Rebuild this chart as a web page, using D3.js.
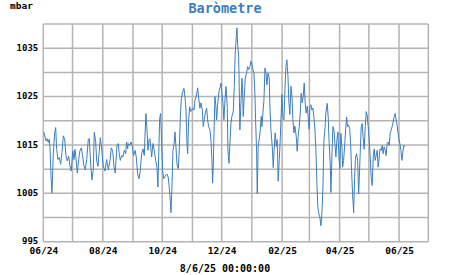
<!DOCTYPE html>
<html>
<head>
<meta charset="utf-8">
<script src="https://cdn.jsdelivr.net/npm/d3@7"></script>
<style>
  body { margin: 0; background: #fff; }
  text { font-family: "DejaVu Sans Mono", monospace; font-weight: bold; }
</style>
</head>
<body>
<div id="chart"></div>
<script>
// readings: day offset from 1 Jun 2024, pressure in mbar
const days = [
  0.7, 2.8, 4.1, 5.1, 6.2, 6.9, 7.9, 8.9, 10.3, 11.7, 12.7, 13.7, 15.1, 16.4, 17.8, 19.2,
  20.5, 21.9, 23.3, 24.6, 26.0, 27.4, 28.7, 30.2, 31.5, 32.5, 33.5, 34.9, 36.3, 37.6, 39.0,
  40.4, 41.7, 43.1, 44.5, 46.2, 47.2, 48.6, 49.9, 51.3, 52.3, 53.7, 54.8, 56.1, 57.4, 58.5,
  59.9, 61.5, 63.3, 65.0, 66.7, 68.4, 69.7, 71.2, 72.5, 73.8,
  74.6, 75.6, 76.9, 77.9, 79.0, 80.4, 81.7, 83.1, 84.5, 85.5, 86.6, 87.2, 88.6, 90.0, 91.3,
  92.7, 94.1, 95.4, 96.8, 98.2, 99.5, 100.9, 102.3, 103.6, 104.3, 105.3, 106.4, 107.4, 108.4,
  109.4, 111.2, 112.5, 113.8, 115.3, 116.6, 117.6, 118.7, 119.4, 120.4, 121.4, 122.5, 123.5,
  124.5, 125.5, 126.9, 128.2, 129.2, 130.3, 131.0, 132.0, 133.0, 134.1, 135.1, 136.1, 137.1,
  138.5, 139.5, 140.5, 141.5, 143.0, 144.3, 145.3, 146.4, 147.4, 148.1, 149.1, 150.2, 151.2,
  152.2, 153.2, 154.6, 155.6,
  156.9, 158.4, 159.4, 160.7, 161.7, 163.1, 164.1, 165.1, 166.2, 167.6, 168.6, 169.6, 171.0,
  172.0, 173.0, 173.7, 174.4, 175.1, 176.1, 177.1, 177.8, 178.9, 180.2, 181.2, 182.3, 183.3,
  184.3, 185.3, 186.4, 187.4, 188.7, 189.4, 190.5, 191.5, 192.5, 193.5, 194.9, 195.9, 196.9,
  198.0, 198.7, 199.4, 200.4, 201.0, 201.7, 202.8, 203.8, 204.5, 205.1, 206.2, 207.2, 208.6,
  209.6, 210.7, 212.0, 213.0, 214.1, 215.1, 216.1, 217.1, 217.8, 218.9, 219.5, 220.5, 221.5,
  222.6, 223.6, 224.3, 225.3, 226.4, 227.4, 228.4, 229.4, 230.5, 231.8,
  232.5, 233.5, 234.9, 235.9, 236.9, 237.9, 239.0, 240.0, 241.0, 242.1, 243.1, 244.1, 244.8,
  245.8, 246.9, 247.9, 248.9, 249.9, 251.0, 252.0, 253.0, 254.1, 255.1, 256.1, 257.1, 258.1,
  259.5, 260.5, 261.5, 262.6, 263.6, 264.6, 265.6, 266.7, 267.7, 268.7, 269.7, 270.8, 271.8,
  272.8,
  273.5, 274.6, 275.6, 276.6, 277.6, 278.7, 279.7, 280.7, 281.7, 282.8, 283.8, 284.8, 285.8,
  286.9, 287.9, 288.9, 289.9, 291.3, 292.3, 293.3, 294.4, 295.1, 296.1, 297.1, 298.2, 299.2,
  300.2, 301.2, 302.3, 303.3, 304.3, 305.3, 306.4, 307.1, 308.1, 309.1, 310.2, 311.2, 312.2,
  313.2, 314.3, 315.3, 316.3, 317.3, 318.4, 319.4, 320.4, 321.4, 322.5, 323.5, 324.1, 325.1,
  326.2, 327.2, 328.2, 329.2, 330.3, 331.3, 332.3, 333.3, 334.4, 335.4, 336.4, 337.4, 338.5,
  339.5, 340.5, 341.5, 342.6, 343.6, 344.6, 345.6, 346.7, 347.7, 348.7, 349.7, 350.8, 351.8,
  352.8, 353.8, 354.9, 355.9, 356.9, 357.9, 359.0, 360.0, 361.0, 361.7, 362.8, 363.8, 364.8,
  365.8, 366.9, 367.9, 368.9, 369.9, 371.0, 372.0
];
const mbar = [
  1017.6, 1015.8, 1016.3, 1015.5, 1016.2, 1014.4, 1008.5, 1005.1, 1013.4, 1017.6, 1018.6, 1014.1,
  1012.0, 1012.4, 1011.0, 1013.4, 1016.9, 1016.2, 1012.7, 1011.7, 1012.7, 1010.6, 1009.6, 1013.8,
  1012.0, 1014.1, 1012.4, 1009.2, 1012.0, 1013.8, 1014.4, 1012.7, 1010.6, 1009.9, 1012.0, 1016.2,
  1016.3, 1011.0, 1007.8, 1009.9, 1017.6, 1015.8, 1011.7, 1010.6, 1013.8, 1016.5, 1014.1, 1010.6,
  1009.6, 1012.0, 1009.9, 1011.7, 1014.4, 1013.8, 1010.6, 1009.2,
  1011.8, 1014.9, 1015.3, 1013.2, 1011.8, 1012.8, 1012.5, 1013.9, 1013.2, 1015.6, 1014.2, 1015.3,
  1014.9, 1015.6, 1014.6, 1012.8, 1013.9, 1012.5, 1009.0, 1008.0, 1009.7, 1013.2, 1014.2, 1012.8,
  1016.7, 1021.5, 1018.1, 1013.9, 1016.0, 1016.3, 1012.5, 1015.3, 1013.9, 1011.8, 1010.4, 1006.3,
  1015.3, 1020.5, 1021.5, 1015.3, 1009.7, 1008.0, 1008.3, 1008.7, 1009.0, 1008.3, 1006.3, 1003.5,
  1001.0, 1006.3, 1013.9, 1014.9, 1017.7, 1014.6, 1011.1, 1010.1, 1013.9, 1020.1, 1024.3, 1026.0,
  1026.7, 1025.0, 1022.2, 1015.3, 1013.2, 1020.1, 1022.9, 1021.9, 1022.2, 1022.6, 1022.2, 1024.3,
  1025.0, 1026.8, 1024.7, 1022.6, 1023.7, 1022.3, 1018.8, 1020.2, 1021.6, 1022.6, 1020.2, 1018.8,
  1018.1, 1016.1, 1011.9, 1007.1, 1010.6, 1017.4, 1025.0, 1023.0, 1020.2, 1023.3, 1026.1, 1026.8,
  1027.8, 1025.7, 1023.7, 1020.2, 1024.3, 1027.1, 1023.0, 1014.0, 1011.2, 1015.4, 1019.5, 1020.9,
  1021.9, 1027.1, 1034.0, 1037.4, 1039.2, 1035.7, 1033.3, 1027.1, 1018.1, 1023.7, 1028.8, 1026.4,
  1020.9, 1025.0, 1028.8, 1029.9, 1031.2, 1030.6, 1031.2, 1032.3, 1031.6, 1030.6, 1029.9, 1025.7,
  1020.2, 1013.3, 1005.0, 1014.7, 1016.1, 1018.1, 1020.9, 1018.8, 1021.6, 1024.3, 1030.9, 1029.9,
  1027.4, 1029.9, 1028.8,
  1023.0, 1018.2, 1014.7, 1010.3, 1014.1, 1017.5, 1014.7, 1016.1, 1007.5, 1012.0, 1016.1, 1021.6,
  1025.4, 1020.9, 1020.2, 1026.4, 1031.2, 1032.6, 1029.2, 1023.7, 1021.3, 1027.1, 1025.1, 1020.2,
  1017.5, 1018.9, 1016.8, 1013.7, 1016.8, 1018.9, 1021.6, 1025.7, 1023.7, 1025.1, 1027.8, 1023.7,
  1021.6, 1023.0, 1020.6, 1018.2,
  1022.9, 1023.3, 1022.2, 1022.6, 1020.8, 1018.1, 1013.9, 1006.9, 1002.1, 1000.7, 1000.0, 998.3,
  1000.7, 1006.3, 1016.0, 1018.1, 1021.5, 1023.6, 1020.8, 1015.3, 1011.1, 1005.2, 1012.5, 1018.8,
  1018.1, 1015.3, 1012.5, 1016.0, 1017.7, 1012.5, 1010.1, 1017.4, 1014.6, 1010.4, 1011.8, 1014.6,
  1018.1, 1020.8, 1018.8, 1019.1, 1018.4, 1015.3, 1009.7, 1004.9, 1001.0, 1008.3, 1012.5, 1013.2,
  1011.8, 1004.9, 1007.6, 1013.2, 1018.8, 1019.4, 1016.5, 1014.1, 1018.8, 1021.9, 1021.2, 1018.8,
  1016.0, 1012.5, 1008.3, 1006.6, 1012.5, 1014.2, 1011.8, 1012.8, 1013.9, 1010.4, 1012.5, 1014.2,
  1013.9, 1014.9, 1013.2, 1014.6, 1013.9, 1012.8, 1015.3, 1015.6, 1014.9, 1017.4, 1018.1, 1018.8,
  1019.8, 1020.8, 1021.5, 1020.5, 1019.4, 1017.7, 1016.3, 1015.3, 1013.9, 1011.8, 1013.5, 1014.9,
  1014.6
];
const yTickLabels = [995, 1005, 1015, 1025, 1035];
const xTickLabels = ["06/24", "08/24", "10/24", "12/24", "02/25", "04/25", "06/25"];
const yGridStep = 5;
const startDate = new Date(2024, 5, 1);
const endDate = new Date(2025, 6, 1);
const title = "Baròmetre";
const unitLabel = "mbar";
const stampLabel = "8/6/25 00:00:00";

const W = 451, H = 275;
const plot = {left: 43.3, right: 428.3, top: 24, bottom: 241.7};

const data = days.map((d, i) => ({ t: new Date(+startDate + d * 864e5), v: mbar[i] }));
const parseTick = d3.timeParse("%m/%y");

const svg = d3.select("#chart").append("svg")
    .attr("width", W)
    .attr("height", H);

const x = d3.scaleTime().domain([startDate, endDate]).range([plot.left, plot.right]);
const y = d3.scaleLinear().domain([995, 1040]).range([plot.bottom, plot.top]);

// grid
const grid = svg.append("g").attr("stroke", "#b4b4b4").attr("stroke-width", 1.5);
grid.selectAll("line.v")
    .data(d3.timeMonth.range(startDate, d3.timeDay.offset(endDate, 1)))
    .join("line")
    .attr("class", "v")
    .attr("x1", d => x(d)).attr("x2", d => x(d))
    .attr("y1", plot.top).attr("y2", plot.bottom);
grid.selectAll("line.h")
    .data(d3.range(995, 1040.1, yGridStep))
    .join("line")
    .attr("class", "h")
    .attr("x1", plot.left).attr("x2", plot.right)
    .attr("y1", d => y(d)).attr("y2", d => y(d));

// axes
const xAxis = svg.append("g")
    .attr("transform", `translate(0,${plot.bottom})`)
    .call(d3.axisBottom(x).tickValues(xTickLabels.map(parseTick)).tickFormat(d3.timeFormat("%m/%y")).tickSize(0).tickPadding(6));
xAxis.select(".domain").remove();
xAxis.selectAll("text").style("font-size", "9.5px").attr("fill", "#000");

const yAxis = svg.append("g")
    .attr("transform", `translate(${plot.left},0)`)
    .call(d3.axisLeft(y).tickValues(yTickLabels).tickFormat(d3.format("d")).tickSize(0).tickPadding(5));
yAxis.select(".domain").remove();
yAxis.selectAll("text").style("font-size", "9px").attr("dy", "0.25em").attr("fill", "#000");

// pressure line
svg.append("path")
    .datum(data)
    .attr("fill", "none")
    .attr("stroke", "#3d7ebf")
    .attr("stroke-width", 1)
    .attr("d", d3.line().x(d => x(d.t)).y(d => y(d.v)));

svg.append("text")
    .attr("x", 225).attr("y", 12.5)
    .attr("text-anchor", "middle")
    .attr("fill", "#3d7ebf")
    .style("font-size", "13.5px")
    .text(title);

svg.append("text")
    .attr("x", 10).attr("y", 8.5)
    .style("font-size", "9.5px")
    .text(unitLabel);

svg.append("text")
    .attr("x", 225).attr("y", 272)
    .attr("text-anchor", "middle")
    .style("font-size", "10px")
    .text(stampLabel);
</script>
</body>
</html>
